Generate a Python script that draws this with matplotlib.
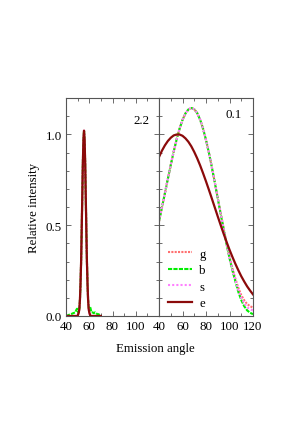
import matplotlib
matplotlib.use("Agg")
import matplotlib.pyplot as plt
from matplotlib.ticker import MultipleLocator

plt.rcParams['font.family'] = ['Liberation Serif', 'DejaVu Serif']
plt.rcParams['font.size'] = 9.3

# ---- narrow-peak panel (2.2) ----
ang_narrow = [40, 42, 44, 45, 46, 48, 49, 49.5, 50, 50.5, 51, 51.5, 52, 52.5, 53, 53.5,
              54, 54.5, 55, 55.5, 56, 56.5, 57, 57.5, 58, 58.5, 59, 59.5, 60, 60.5,
              61, 61.5, 62, 63, 64, 65, 66, 67, 68, 69, 70]
e_narrow = [0, 0, 0, 0, 0, 0, 0, 0, 0, 0.01, 0.02, 0.04, 0.09, 0.18, 0.30, 0.47,
            0.66, 0.84, 0.97, 1.02, 0.97, 0.84, 0.66, 0.47, 0.30, 0.18, 0.09, 0.04, 0.02, 0.01,
            0, 0, 0, 0, 0, 0, 0, 0, 0, 0, 0]
b_narrow = [0, 0.005, 0.01, 0.012, 0.015, 0.02, 0.035, 0.04, 0.035, 0.02, 0.02, 0.04, 0.09, 0.18, 0.30, 0.47,
            0.66, 0.84, 0.97, 1.02, 0.97, 0.84, 0.66, 0.47, 0.30, 0.18, 0.09, 0.05, 0.045, 0.05,
            0.045, 0.03, 0.02, 0.02, 0.015, 0.02, 0.015, 0.01, 0.01, 0.005, 0]

# ---- broad panel (0.1) ----
ang_broad = [40, 42.5, 45, 47.5, 50, 52.5, 55, 57.5, 60, 62.5, 65, 67.5, 70, 72.5, 75, 77.5,
             80, 82.5, 85, 87.5, 90, 92.5, 95, 97.5, 100, 102.5, 105, 107.5, 110, 112.5,
             115, 117.5, 120]
b_broad = [0.521, 0.597, 0.675, 0.754, 0.831, 0.905, 0.972, 1.031, 1.079, 1.115, 1.137, 1.145,
           1.138, 1.117, 1.081, 1.031, 0.969, 0.898, 0.818, 0.734, 0.647, 0.561, 0.478, 0.395,
           0.318, 0.250, 0.191, 0.133, 0.088, 0.054, 0.031, 0.018, 0.010]
g_broad = [0.521, 0.597, 0.675, 0.754, 0.831, 0.905, 0.972, 1.031, 1.079, 1.115, 1.137, 1.145,
           1.138, 1.117, 1.081, 1.031, 0.969, 0.898, 0.818, 0.735, 0.649, 0.565, 0.483, 0.402,
           0.326, 0.262, 0.205, 0.155, 0.115, 0.087, 0.066, 0.054, 0.046]
s_broad = [0.521, 0.597, 0.675, 0.754, 0.831, 0.905, 0.972, 1.031, 1.079, 1.115, 1.137, 1.145,
           1.138, 1.117, 1.081, 1.031, 0.969, 0.898, 0.818, 0.734, 0.648, 0.563, 0.480, 0.398,
           0.322, 0.255, 0.197, 0.145, 0.100, 0.070, 0.048, 0.037, 0.030]
e_broad = [0.875, 0.910, 0.939, 0.963, 0.981, 0.994, 0.999, 0.999, 0.992, 0.978, 0.959, 0.934,
           0.903, 0.868, 0.829, 0.786, 0.741, 0.694, 0.646, 0.597, 0.548, 0.500, 0.453, 0.408,
           0.365, 0.325, 0.287, 0.252, 0.219, 0.190, 0.163, 0.140, 0.119]

panel_labels = ["2.2", "0.1"]
series_names = ["g", "b", "s", "e"]

col_g = '#ff7070'
col_b = '#00ee00'
col_s = '#ff80ff'
col_e = '#8b0a0a'

fig = plt.figure(figsize=(3.04, 4.31), dpi=100)
axL = fig.add_axes([66/304, 1-317/431, 93/304, 218/431])
axR = fig.add_axes([159/304, 1-317/431, 94/304, 218/431])

# left panel
axL.plot(ang_narrow, e_narrow, color=col_g, lw=1.5, ls=(0, (1, 0.6)))
axL.plot(ang_narrow, b_narrow, color=col_b, lw=1.5, ls=(0, (2, 0.6)))
axL.plot(ang_narrow, e_narrow, color=col_s, lw=1.5, ls=(0, (1, 1)))
axL.plot(ang_narrow, e_narrow, color=col_e, lw=1.6)

# right panel
axR.plot(ang_broad, g_broad, color=col_g, lw=1.5, ls=(0, (1, 0.6)), label=series_names[0])
axR.plot(ang_broad, b_broad, color=col_b, lw=1.5, ls=(0, (2, 0.6)), label=series_names[1])
axR.plot(ang_broad, s_broad, color=col_s, lw=1.5, ls=(0, (1, 1)), label=series_names[2])
axR.plot(ang_broad, e_broad, color=col_e, lw=1.6, label=series_names[3])

for ax in (axL, axR):
    ax.set_xlim(40, 120)
    ax.set_ylim(0, 1.2)
    ax.xaxis.set_major_locator(MultipleLocator(20))
    ax.xaxis.set_minor_locator(MultipleLocator(10))
    ax.yaxis.set_major_locator(MultipleLocator(0.5))
    ax.yaxis.set_minor_locator(MultipleLocator(0.1))
    ax.tick_params(which='both', direction='in', top=True, right=True, pad=3,
                   color='#555555')
    ax.tick_params(which='major', length=3.5, width=0.6)
    ax.tick_params(which='minor', length=2, width=0.6)
    for sp in ax.spines.values():
        sp.set_linewidth(0.8)
        sp.set_color('#555555')

axL.set_xticks([40, 60, 80, 100])
axL.set_xticklabels(['40', '60', '80', '100'])
axL.xaxis.set_minor_locator(MultipleLocator(10))
axL.set_yticks([0, 0.5, 1.0])
axL.set_yticklabels(['0.0', '0.5', '1.0'])
axR.set_yticklabels([])
axR.set_xticks([40, 60, 80, 100, 120])

axL.set_ylabel('Relative intensity', labelpad=4)
fig.text(155.7/304, 1-349/431, 'Emission angle', ha='center', va='center', fontsize=9.3)

axL.text(0.90, 0.90, panel_labels[0], transform=axL.transAxes, ha='right', va='center')
axR.text(0.88, 0.925, panel_labels[1], transform=axR.transAxes, ha='right', va='center')

axR.legend(loc='center left', bbox_to_anchor=(0.096, 0.172), frameon=False,
           handlelength=1.86, handletextpad=0.55, labelspacing=0.34,
           borderpad=0, borderaxespad=0)

fig.savefig('out.png', dpi=100)
